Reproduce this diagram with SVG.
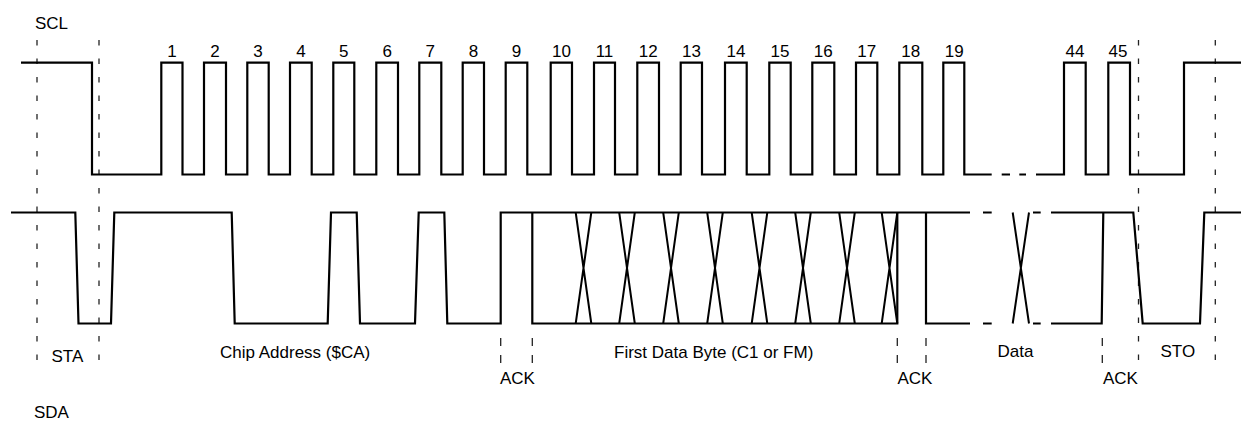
<svg xmlns="http://www.w3.org/2000/svg" width="1241" height="421" viewBox="0 0 1241 421">
<style>
.sig{fill:none;stroke:#000;stroke-width:2.2;stroke-linejoin:miter;stroke-linecap:butt}
.thin{fill:none;stroke:#000;stroke-width:2}
.guide{fill:none;stroke:#222;stroke-width:1.3;stroke-dasharray:5.5 13}
.ack{fill:none;stroke:#222;stroke-width:1.3;stroke-dasharray:8 9}
.t{font-family:"Liberation Sans",Arial,sans-serif;font-size:17px;fill:#000}
.n{font-family:"Liberation Sans",Arial,sans-serif;font-size:17px;fill:#000;text-anchor:middle}
</style>
<rect width="1241" height="421" fill="#fff"/>
<g id="guides">
<path class="guide" d="M37,40V362 M99,40V362 M1138.5,40V362 M1215.3,40V362"/>
<path class="ack" d="M500.7,338V363 M532.3,338V363 M897.3,338V363 M926,338V363 M1102.3,338V363"/>
</g>
<g id="scl">
<path class="sig" d="M21,62.7 H92 V174.5 H161.3 V62.7 H182.5 V174.5 H204 V62.7 H226 V174.5 H247.3 V62.7 H268.7 V174.5 H290 V62.7 H311.7 V174.5 H333.3 V62.7 H354.3 V174.5 H376.3 V62.7 H398 V174.5 H419.3 V62.7 H441.3 V174.5 H462.7 V62.7 H484 V174.5 H505.7 V62.7 H527.3 V174.5 H550.7 V62.7 H572 V174.5 H594 V62.7 H615 V174.5 H637.3 V62.7 H659 V174.5 H680.7 V62.7 H702 V174.5 H725 V62.7 H746.7 V174.5 H769.3 V62.7 H790.7 V174.5 H812.3 V62.7 H834.3 V174.5 H856 V62.7 H877.3 V174.5 H899.3 V62.7 H922.3 V174.5 H943.3 V62.7 H964.3 V174.5 H991.7 M1001.7,174.5 H1010 M1019.3,174.5 H1026 M1036,174.5 H1064 V62.7 H1085.7 V174.5 H1108.3 V62.7 H1130 V174.5 H1184 V62.7 H1241"/>
</g>
<g id="sda">
<path class="sig" d="M11,212.5 H75.3 L78.5,323.5 H111 L114.3,212.5 H231.7 L234.7,323.5 H327.7 L331,212.5 H356.7 L360,323.5 H415 L418.7,212.5 H444.3 L447.3,323.5 H500.7 V212.5 H970 M532.3,212.5 V323.5 H897.3 V212.5 M926,212.5 V323.5 H970 M983,212.5 H991.7 M983,323.5 H991.7 M1033,212.5 H1040.7 M1033,323.5 H1040.7 M1051,212.5 H1133.3 L1142.7,323.5 H1200 L1204.3,212.5 H1241 M1051,323.5 H1101.7 L1103.3,212.5"/>
<path class="thin" d="M575.7,212.5 L591.3,323.5 M575.7,323.5 L591.3,212.5 M619.2,212.5 L634.8,323.5 M619.2,323.5 L634.8,212.5 M663.2,212.5 L678.8,323.5 M663.2,323.5 L678.8,212.5 M707.2,212.5 L722.8,323.5 M707.2,323.5 L722.8,212.5 M751.7,212.5 L767.3,323.5 M751.7,323.5 L767.3,212.5 M795.2,212.5 L810.8,323.5 M795.2,323.5 L810.8,212.5 M839.2,212.5 L854.8,323.5 M839.2,323.5 L854.8,212.5 M881.7,212.5 L897.3,323.5 M881.7,323.5 L897.3,212.5 M1012.7,212.5 L1029,323.5 M1012.7,323.5 L1029,212.5"/>
</g>
<g id="numbers">
<text class="n" x="171.9" y="57">1</text>
<text class="n" x="215" y="57">2</text>
<text class="n" x="258" y="57">3</text>
<text class="n" x="300.9" y="57">4</text>
<text class="n" x="343.8" y="57">5</text>
<text class="n" x="387.2" y="57">6</text>
<text class="n" x="430.3" y="57">7</text>
<text class="n" x="473.4" y="57">8</text>
<text class="n" x="516.5" y="57">9</text>
<text class="n" x="561.4" y="57">10</text>
<text class="n" x="604.5" y="57">11</text>
<text class="n" x="648.2" y="57">12</text>
<text class="n" x="691.4" y="57">13</text>
<text class="n" x="735.9" y="57">14</text>
<text class="n" x="780" y="57">15</text>
<text class="n" x="823.3" y="57">16</text>
<text class="n" x="866.7" y="57">17</text>
<text class="n" x="910.8" y="57">18</text>
<text class="n" x="954.3" y="57">19</text>
<text class="n" x="1074.9" y="57">44</text>
<text class="n" x="1118" y="57">45</text>
</g>
<g id="labels">
<text class="t" x="35" y="29">SCL</text>
<text class="t" x="51.5" y="362">STA</text>
<text class="t" x="220" y="358">Chip Address ($CA)</text>
<text class="t" x="614" y="358">First Data Byte (C1 or FM)</text>
<text class="t" x="997.5" y="357">Data</text>
<text class="t" x="1160.5" y="357">STO</text>
<text class="t" x="500" y="384">ACK</text>
<text class="t" x="897.5" y="384">ACK</text>
<text class="t" x="1103" y="384">ACK</text>
<text class="t" x="34" y="418">SDA</text>
</g>
</svg>
